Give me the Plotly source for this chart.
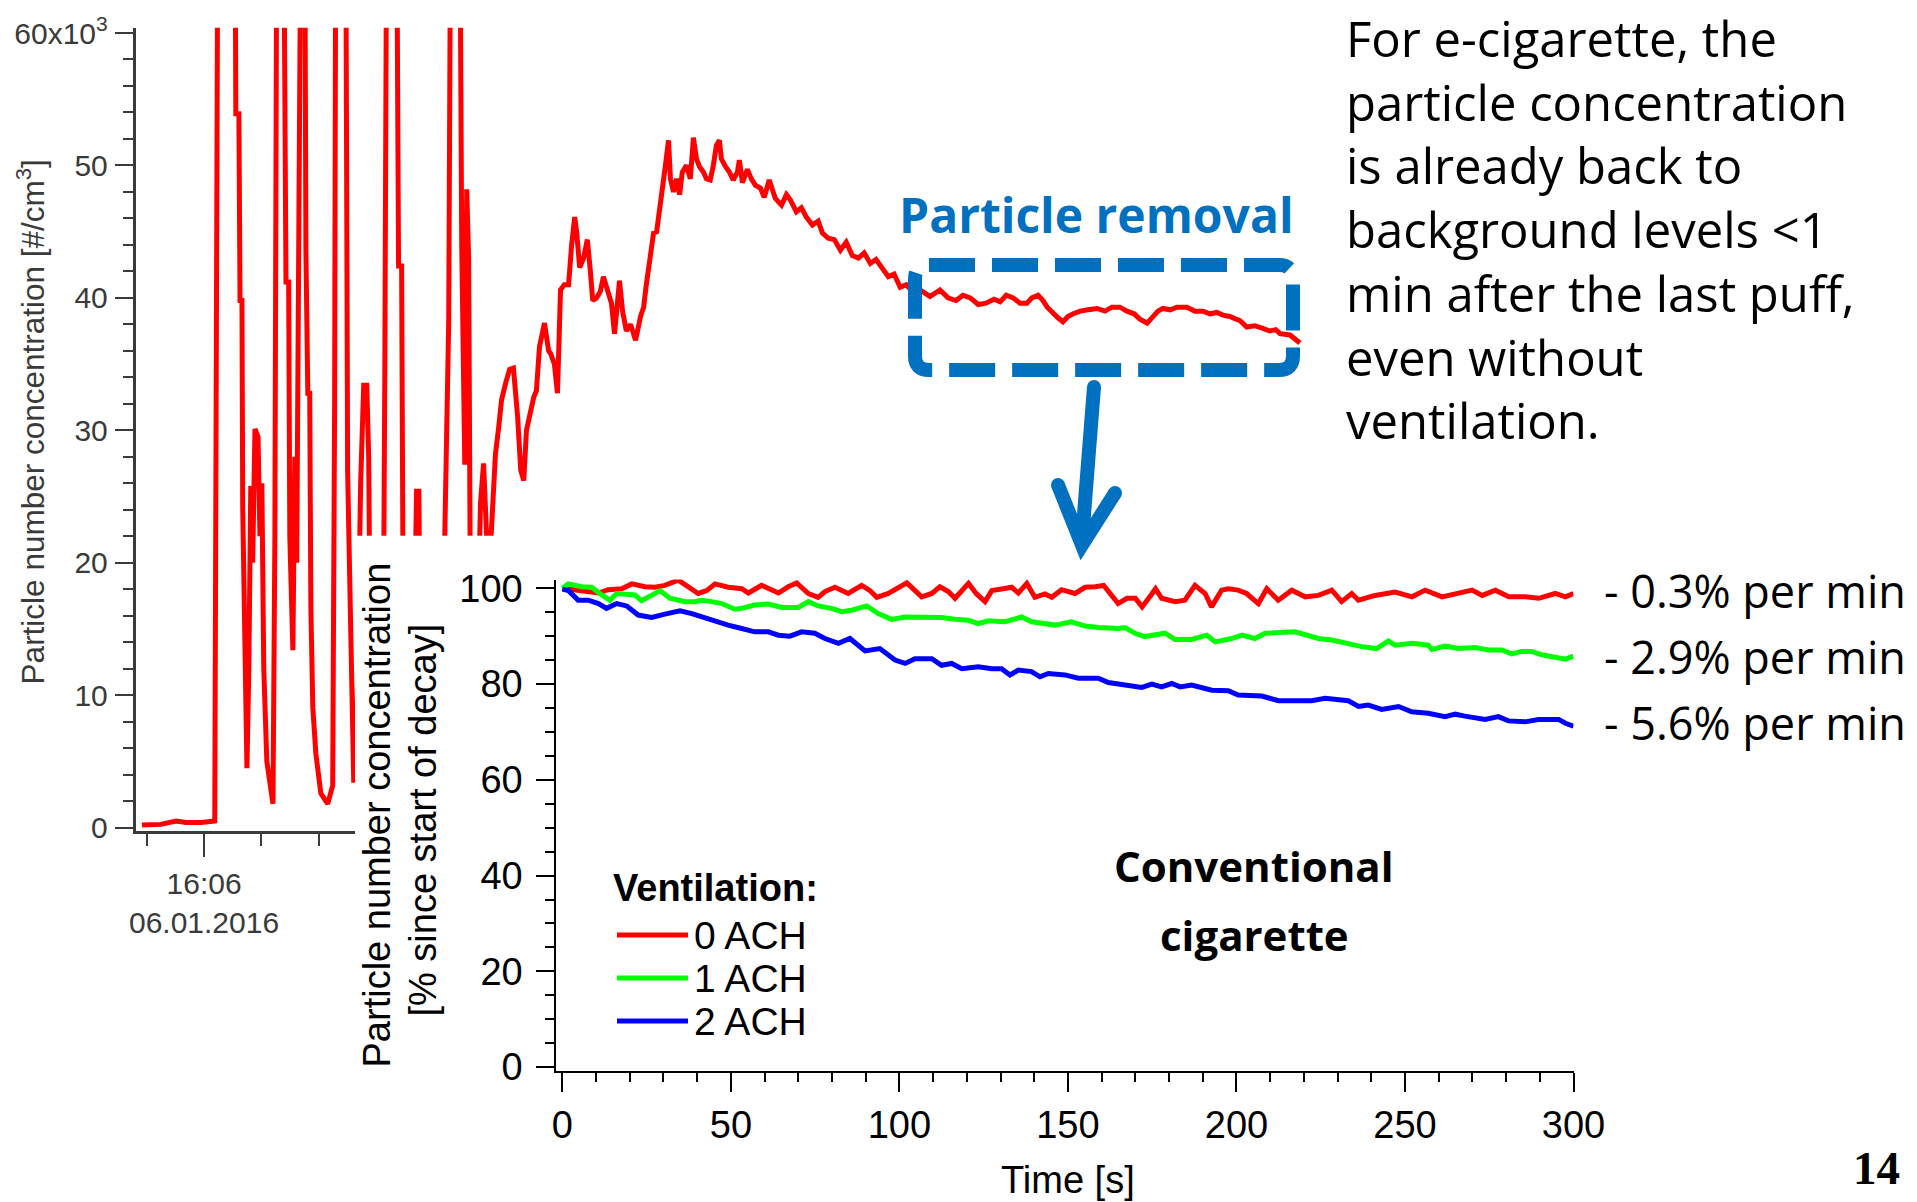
import pandas as pd
import plotly.graph_objects as go

W, H = 1917, 1202
RED, GREEN, BLUE = "#ff0000", "#00ff00", "#0000ff"
ACCENT = "#0070c0"
AXIS_GREY = "#3a3a3a"
SANS = "Liberation Sans, Arial, sans-serif"
SLIDE = "Open Sans, sans-serif"

# ---- e-cigarette session (6 Jan 2016): seconds after 16:05:40, concentration in 10^3 #/cm3
session_start = pd.Timestamp("2016-01-06 16:05:40")
ecig_seconds = [
    3.8, 8.7, 12.7, 15.3, 19.2, 22.8, 23.6, 28.1, 28.3, 29.1, 29.4, 29.9, 30.1, 30.7,
    31.2, 31.7, 32.2, 32.7, 33.3, 34.1, 34.6, 35.1, 35.6, 36.4, 37.4, 38.0, 38.5, 39.0,
    40.8, 41.4, 42.1, 42.4, 43.2, 43.7, 44.2, 44.7, 45.3, 46.3, 46.6, 47.1, 47.6, 47.9,
    48.4, 49.2, 50.5, 52.3, 53.6, 54.1, 54.4, 57.0, 57.5, 58.3, 59.1, 59.9, 60.9, 61.7,
    62.5, 63.0, 63.5, 64.8, 66.7, 67.2, 67.7, 70.3, 70.8, 71.6, 72.1, 74.5, 75.5, 76.1,
    76.6, 81.8, 83.9, 84.4, 86.8, 87.3, 88.1, 88.6, 89.1, 89.6, 90.4, 91.7, 92.2, 93.0,
    93.8, 94.6, 95.4, 96.1, 96.9, 97.7, 98.8, 99.8, 100.8, 101.9, 102.7, 103.5, 104.2,
    105.3, 106.1, 106.8, 107.6, 108.9, 110.0, 110.5, 111.5, 112.3, 113.1, 114.1, 115.2,
    116.0, 116.8, 117.3, 118.1, 119.1, 120.1, 120.9, 121.5, 122.5, 123.5, 124.3, 125.4,
    126.4, 127.2, 128.5, 129.3, 130.3, 131.4, 132.7, 134.0, 134.8, 135.5, 136.6, 137.4,
    138.2, 138.9, 139.7, 140.5, 141.3, 141.8, 142.6, 143.4, 144.2, 144.9, 146.0, 147.0,
    147.8, 148.6, 149.4, 150.4, 151.2, 152.2, 153.0, 153.8, 154.6, 155.1, 156.2, 157.2,
    158.2, 159.3, 159.8, 160.6, 161.9, 162.9, 164.0, 165.3, 166.3, 167.6, 169.2, 170.8,
    172.1, 173.1, 174.7, 176.0, 177.3, 178.9, 180.4, 181.5, 183.0, 184.6, 186.2, 187.7,
    189.3, 190.9, 192.4, 194.0, 195.5, 197.1, 198.7, 200.2, 201.8, 203.4, 204.9, 207.0,
    209.6, 212.2, 214.3, 216.4, 218.2, 220.1, 222.2, 224.2, 226.3, 227.9, 229.5, 231.3,
    233.1, 234.9, 236.2, 237.8, 239.1, 240.2, 241.7, 243.0, 244.3, 245.6, 247.0, 248.8,
    250.9, 253.2, 255.3, 257.1, 259.2, 261.0, 262.9, 264.4, 266.3, 267.8, 269.1, 270.4,
    272.3, 274.1, 276.7, 278.8, 280.9, 282.7, 284.5, 286.1, 287.9, 289.5, 290.5, 292.3,
    294.4, 296.5, 298.3, 299.9, 301.0, 303.6, 306.2,
]
ecig_conc_k = [
    0.2, 0.25, 0.5, 0.4, 0.4, 0.5, 70, 70, 53.9, 53.9, 39.8, 39.8, 24.2, 10,
    4.5, 12, 25.8, 20, 30.1, 29.5, 22, 26, 12, 5, 2.5, 1.8, 22, 70,
    70, 41.2, 41.2, 22, 13.4, 28, 20, 43, 70, 70, 43.6, 32.8, 32.8, 16.6,
    9.1, 5.6, 2.6, 1.8, 3.2, 31.8, 70, 70, 26.9, 15, 3.4, 8, 26, 33.4,
    33.4, 28, 10, 5, 8, 33.9, 70, 70, 42.4, 42.4, 10, 8, 25.4, 25.4,
    8, 5, 38.3, 70, 70, 43.9, 27.4, 48.2, 43, 15, 20, 18, 24.5, 27.5,
    22, 20, 25.5, 28.2, 30.1, 32.3, 33.6, 34.6, 34.7, 31, 27, 26.2, 30,
    31.5, 32.5, 33, 36.3, 38.1, 36, 35.8, 35, 32.8, 40.6, 41, 41,
    44, 46.1, 45, 42.3, 43, 44.4, 42, 39.8, 40, 40.5, 41.6, 40.5,
    39.6, 37.3, 41.3, 39, 37.5, 38, 36.8, 38.6, 39.3, 41, 43, 44.9,
    45, 46.5, 47.6, 50, 51.9, 49, 48, 49, 47.8, 49.5, 50, 49,
    52.1, 50.5, 49.9, 49.5, 49, 48.9, 50, 51.5, 51.9, 50.5, 49.9, 49.5,
    48.9, 49.5, 50.4, 48.7, 49.7, 49, 48.5, 48.3, 47.6, 48.9, 47.5, 47,
    47.8, 47.4, 46.5, 46.8, 46.1, 45.5, 45.8, 44.9, 44.5, 44.4, 43.6, 44.2,
    43.2, 43.0, 43.4, 42.6, 42.9, 42.2, 41.6, 41.8, 40.8, 41.0, 40.5, 40.6,
    40.1, 40.6, 40.0, 39.8, 40.2, 40.0, 39.5, 39.6, 39.9, 39.7, 40.2, 40.0,
    39.6, 39.6, 40.0, 40.2, 39.8, 39.3, 38.8, 38.5, 38.2, 38.6, 38.8, 39.0,
    39.1, 39.2, 39.0, 39.3, 39.3, 39.0, 38.8, 38.4, 38.1, 38.6, 39.0, 39.2,
    39.1, 39.3, 39.3, 39.0, 39.0, 38.8, 38.9, 38.7, 38.6, 38.4, 38.3, 37.8,
    37.9, 37.7, 37.5, 37.6, 37.3, 37.2, 36.6,
]
conc_tickvals = [0, 10, 20, 30, 40, 50, 60]
conc_ticktext = ["0", "10", "20", "30", "40", "50", "60x10<sup>3</sup>"]

# ---- conventional cigarette: concentration relative to the start of the decay (%)
# 0 air changes per hour
decay_t_0ach = [
    0, 3.7, 7.7, 10.7, 13.6, 17.6, 20.6, 24.5, 27.5, 30.4, 34.4, 37.4, 40.3, 42.8, 45.3,
    49.2, 53.2, 55.2, 59.1, 64.1, 67.0, 69.5, 73.0, 75.9, 77.9, 80.9, 84.8, 88.8, 91.3,
    93.3, 96.7, 102.2, 106.6, 109.6, 112.0, 114.5, 116.5, 120.5, 122.9, 125.4, 127.4,
    130.8, 133.3, 135.3, 137.8, 140.2, 143.2, 145.2, 148.1, 152.1, 155.1, 158.1, 160.6,
    164.9, 167.5, 170.0, 172.0, 175.0, 176.0, 177.8, 181.8, 184.7, 187.7, 190.7, 192.6,
    195.6, 197.6, 200.5, 203.0, 206.5, 209.0, 212.4, 216.4, 220.4, 224.3, 228.3, 231.2,
    234.2, 236.2, 241.1, 247.1, 252.1, 256.0, 261.0, 265.9, 269.9, 272.9, 276.8, 280.8,
    285.7, 289.7, 294.6, 297.6, 300.0,
]
decay_pct_0ach = [
    100.0, 99.7, 99.5, 99.0, 99.7, 99.9, 100.9, 100.3, 100.2, 100.6, 101.7, 100.3, 98.9,
    99.5, 100.9, 100.2, 99.9, 99.0, 100.6, 99.0, 100.3, 101.1, 98.9, 98.1, 99.3, 100.2,
    98.9, 100.6, 99.5, 98.1, 98.9, 101.1, 98.2, 98.9, 100.3, 99.3, 97.9, 101.0, 98.8,
    97.2, 99.5, 99.9, 100.2, 99.0, 101.0, 98.1, 98.8, 98.1, 99.7, 98.9, 100.2, 100.3,
    100.6, 96.8, 97.9, 97.9, 96.1, 98.9, 99.9, 97.9, 97.2, 97.5, 100.6, 98.9, 96.1,
    99.6, 99.9, 99.6, 98.9, 96.8, 99.9, 97.5, 99.6, 98.2, 98.5, 99.6, 97.2, 98.9, 97.5,
    98.5, 99.2, 98.2, 99.6, 98.2, 98.9, 99.6, 98.5, 99.6, 98.2, 98.2, 97.9, 98.9, 98.2,
    98.9,
]
# 1 air change per hour
decay_t_1ach = [
    0, 1.8, 5.7, 8.7, 11.7, 14.1, 16.1, 19.6, 21.5, 23.5, 26.5, 29.0, 31.9, 36.4, 39.3,
    41.3, 44.3, 47.3, 51.2, 53.2, 57.1, 61.1, 65.1, 70.0, 73.0, 75.9, 79.9, 82.9, 85.8,
    90.3, 93.7, 97.7, 101.7, 106.6, 112.5, 116.5, 120.5, 123.4, 126.4, 131.3, 136.3,
    139.2, 142.2, 146.2, 151.1, 155.1, 159.0, 164.9, 166.9, 169.9, 172.8, 175.8, 178.8,
    181.8, 186.7, 191.2, 193.7, 198.6, 201.6, 205.5, 208.5, 217.4, 220.4, 224.3, 228.3,
    232.2, 237.2, 241.6, 245.1, 247.1, 252.1, 256.9, 258.0, 261.9, 265.9, 270.8, 274.8,
    278.7, 281.7, 284.6, 287.6, 290.6, 293.6, 297.6, 300.0,
]
decay_pct_1ach = [
    100.0, 100.9, 100.3, 100.2, 98.6, 97.5, 98.9, 98.6, 98.6, 97.4, 98.6, 99.5, 97.9,
    97.2, 97.2, 97.5, 97.2, 96.8, 95.6, 95.8, 96.5, 96.7, 96.0, 96.0, 97.2, 96.3, 95.8,
    95.1, 95.4, 96.3, 94.7, 93.5, 94.0, 93.9, 93.9, 93.5, 93.3, 92.6, 93.2, 93.0, 94.0,
    93.0, 92.8, 92.3, 93.0, 92.1, 91.8, 91.6, 91.8, 90.6, 89.9, 90.2, 90.6, 89.3, 89.3,
    90.2, 88.8, 89.5, 90.2, 89.5, 90.6, 90.9, 90.2, 89.5, 89.2, 88.5, 87.8, 87.4, 89.0,
    88.1, 88.5, 88.1, 87.2, 87.9, 87.4, 87.6, 87.1, 87.1, 86.3, 86.8, 86.8, 86.1, 85.6,
    85.2, 85.8,
]
# 2 air changes per hour
decay_t_2ach = [
    0, 1.8, 4.7, 7.7, 10.7, 13.1, 16.1, 19.1, 22.5, 26.5, 30.4, 34.9, 38.4, 41.3, 45.3,
    49.2, 53.2, 57.1, 61.1, 64.1, 67.5, 71.0, 74.9, 77.9, 81.9, 85.3, 89.8, 94.2, 98.7,
    101.7, 104.6, 109.6, 112.5, 115.5, 118.5, 123.4, 127.4, 130.3, 132.8, 135.3, 139.2,
    141.7, 144.2, 149.1, 153.1, 159.0, 162.0, 167.0, 171.9, 174.9, 177.8, 180.8, 183.3,
    186.7, 192.7, 197.6, 200.5, 207.5, 212.5, 218.4, 222.3, 226.3, 233.2, 236.2, 239.1,
    243.1, 248.1, 252.0, 256.9, 261.9, 264.9, 267.8, 273.8, 277.7, 280.7, 285.7, 289.6,
    295.6, 297.6, 300.0,
]
decay_pct_2ach = [
    99.8, 99.5, 97.5, 97.5, 96.8, 95.8, 96.8, 96.3, 94.4, 93.9, 94.6, 95.3, 94.7, 94.0,
    93.0, 92.3, 91.6, 90.9, 90.9, 90.2, 90.0, 90.9, 90.6, 89.5, 88.5, 89.5, 86.9, 87.4,
    85.0, 84.3, 85.3, 85.3, 83.9, 84.3, 83.2, 83.6, 83.2, 83.2, 81.9, 82.9, 82.6, 81.5,
    82.2, 81.9, 81.2, 81.2, 80.3, 79.8, 79.3, 80.0, 79.4, 80.1, 79.4, 79.8, 78.7, 78.6,
    77.7, 77.5, 76.5, 76.5, 76.5, 77.0, 76.5, 75.3, 75.6, 74.7, 75.3, 74.2, 73.9, 73.2,
    73.7, 73.3, 72.6, 73.2, 72.3, 72.1, 72.6, 72.6, 71.8, 71.2,
]
ventilation_labels = ["0 ACH", "1 ACH", "2 ACH"]
decay_rate_labels = ["- 0.3% per min", "- 2.9% per min", "- 5.6% per min"]


def px(x):
    return x / W


def py(y):
    return 1 - y / H


def path_from_px(points, close=False):
    parts = []
    for cmd, coords in points:
        xy = " ".join(f"{px(coords[i]):.5f},{py(coords[i + 1]):.5f}" for i in range(0, len(coords), 2))
        parts.append(f"{cmd} {xy}")
    return " ".join(parts) + (" Z" if close else "")


ecig_times = [session_start + pd.Timedelta(seconds=s) for s in ecig_seconds]
label_time = session_start + pd.Timedelta(seconds=20)

fig = go.Figure()

# main e-cigarette time series
fig.add_trace(go.Scatter(
    x=ecig_times, y=ecig_conc_k, mode="lines", line=dict(color=RED, width=5),
    xaxis="x", yaxis="y", showlegend=False, hoverinfo="skip",
))
# blank panel that masks the lower right part of the main chart
fig.add_trace(go.Scatter(x=[], y=[], xaxis="x2", yaxis="y2", showlegend=False, hoverinfo="skip"))
# decay curves of the inset
decay_series = [
    (decay_t_0ach, decay_pct_0ach, RED),
    (decay_t_1ach, decay_pct_1ach, GREEN),
    (decay_t_2ach, decay_pct_2ach, BLUE),
]
for (tt, vals, col), name in zip(decay_series, ventilation_labels):
    fig.add_trace(go.Scatter(
        x=tt, y=vals, mode="lines", line=dict(color=col, width=5),
        xaxis="x3", yaxis="y3", name=name, showlegend=False, hoverinfo="skip",
    ))

tick_font_main = dict(family=SANS, size=30, color=AXIS_GREY)
tick_font_inset = dict(family=SANS, size=38, color="#000000")

fig.update_layout(
    template="none",
    width=W, height=H, autosize=False,
    margin=dict(l=0, r=0, t=0, b=0, pad=0, autoexpand=False),
    paper_bgcolor="white", plot_bgcolor="white",
    xaxis=dict(
        type="date", domain=[px(135.5), px(1303)], anchor="y", automargin=False,
        range=[str(session_start + pd.Timedelta(seconds=2.1)), str(session_start + pd.Timedelta(seconds=307.0))],
        showline=True, linecolor=AXIS_GREY, linewidth=2.5, showgrid=False, zeroline=False,
        ticks="outside", ticklen=23, tickwidth=2, tickcolor=AXIS_GREY,
        tickvals=[label_time], tickformat="%H:%M<br>%d.%m.%Y",
        tickfont=tick_font_main, ticklabelstandoff=1,
        minor=dict(ticks="outside", ticklen=12, tickwidth=2, tickcolor=AXIS_GREY,
                   dtick=15000, tick0=str(label_time), showgrid=False),
    ),
    yaxis=dict(
        domain=[py(831), py(27.7)], anchor="x", range=[-0.25, 60.4], automargin=False,
        showline=True, linecolor=AXIS_GREY, linewidth=2.5, showgrid=False, zeroline=False,
        ticks="outside", ticklen=18, tickwidth=2, tickcolor=AXIS_GREY,
        tickvals=conc_tickvals, ticktext=conc_ticktext, tickfont=tick_font_main,
        ticklabelstandoff=1,
        minor=dict(ticks="outside", ticklen=10, tickwidth=2, tickcolor=AXIS_GREY, dtick=2, showgrid=False),
    ),
    xaxis2=dict(domain=[px(355), px(1310)], anchor="y2", visible=False, range=[0, 1], automargin=False),
    yaxis2=dict(domain=[0, py(535.7)], anchor="x2", visible=False, range=[0, 1], automargin=False),
    xaxis3=dict(
        domain=[px(556.3), px(1573.5)], anchor="y3", range=[-1.8, 300], automargin=False,
        showline=True, linecolor="black", linewidth=2, showgrid=False, zeroline=False,
        ticks="outside", ticklen=19, tickwidth=2, tickcolor="black",
        tick0=0, dtick=50, tickfont=tick_font_inset, ticklabelstandoff=0,
        minor=dict(ticks="outside", ticklen=9, tickwidth=2, tickcolor="black", dtick=10, showgrid=False),
    ),
    yaxis3=dict(
        domain=[py(1071), py(579.6)], anchor="x3", range=[-0.8, 101.8], automargin=False,
        showline=True, linecolor="black", linewidth=2, showgrid=False, zeroline=False,
        ticks="outside", ticklen=18, tickwidth=2, tickcolor="black",
        tick0=0, dtick=20, tickfont=tick_font_inset, ticklabelstandoff=6,
        minor=dict(ticks="outside", ticklen=9, tickwidth=2, tickcolor="black", dtick=5, showgrid=False),
    ),
)

annotations = [
    # axis titles
    dict(x=px(30.6), y=py(421.8), text="Particle number concentration [#/cm<sup>3</sup>]",
         textangle=-90, font=dict(family=SANS, size=31.5, color=AXIS_GREY)),
    dict(x=px(377), y=py(815.5), text="Particle number concentration",
         textangle=-90, font=dict(family=SANS, size=38, color="black")),
    dict(x=px(423), y=py(820.6), text="[% since start of decay]",
         textangle=-90, font=dict(family=SANS, size=38, color="black")),
    dict(x=px(1068), y=py(1180), text="Time [s]", font=dict(family=SANS, size=38, color="black")),
    # slide text
    dict(x=px(1343.6), y=py(229.3), xanchor="left", align="left",
         text=("For e-cigarette, the<br>particle concentration<br>is already back to<br>"
               "background levels &lt;1<br>min after the last puff,<br>even without<br>ventilation."),
         font=dict(family=SLIDE, size=49, color="black")),
    dict(x=px(1096.5), y=py(214), text="<b>Particle removal</b>",
         font=dict(family=SLIDE, size=48, color=ACCENT)),
    dict(x=px(1254), y=py(865), text="<b>Conventional</b>", font=dict(family=SLIDE, size=42, color="black")),
    dict(x=px(1254), y=py(934), text="<b>cigarette</b>", font=dict(family=SLIDE, size=42, color="black")),
    dict(x=px(611), y=py(888), xanchor="left", text="<b>Ventilation:</b>",
         font=dict(family=SANS, size=38, color="black")),
    dict(x=px(1876), y=py(1167.5), text="<b>14</b>",
         font=dict(family="Liberation Serif, Times New Roman, serif", size=47, color="black")),
]
for label, yc in zip(decay_rate_labels, [590.5, 656.5, 722.5]):
    annotations.append(dict(x=px(1601.6), y=py(yc), xanchor="left", text=label,
                            font=dict(family=SLIDE, size=45, color="black")))

shapes = []
for label, col, yc in zip(ventilation_labels, [RED, GREEN, BLUE], [935, 978, 1021]):
    shapes.append(dict(type="line", xref="paper", yref="paper", x0=px(617), x1=px(688),
                       y0=py(yc), y1=py(yc), line=dict(color=col, width=5)))
    annotations.append(dict(x=px(692), y=py(yc), xanchor="left", text=label,
                            font=dict(family=SANS, size=39, color="black")))

for a in annotations:
    a.setdefault("xref", "paper")
    a.setdefault("yref", "paper")
    a.setdefault("showarrow", False)
    a.setdefault("xanchor", "center")
    a.setdefault("yanchor", "middle")

# dashed rounded box around the decay part of the main series
L, R, T, B, r = 915, 1293, 265, 370, 14
box_path = path_from_px([
    ("M", (L + r, T)), ("L", (R - r, T)), ("Q", (R, T, R, T + r)), ("L", (R, B - r)),
    ("Q", (R, B, R - r, B)), ("L", (L + r, B)), ("Q", (L, B, L, B - r)), ("L", (L, T + r)),
    ("Q", (L, T, L + r, T)),
], close=True)
shapes.append(dict(type="path", xref="paper", yref="paper", path=box_path,
                   line=dict(color=ACCENT, width=14, dash="46px,17px")))

# arrow pointing from the box to the inset
shapes.append(dict(type="line", xref="paper", yref="paper", x0=px(1094), y0=py(387), x1=px(1082), y1=py(540),
                   line=dict(color=ACCENT, width=14)))
shapes.append(dict(type="path", xref="paper", yref="paper",
                   path=path_from_px([("M", (1058, 485)), ("L", (1082, 545)), ("L", (1115, 493))]),
                   line=dict(color=ACCENT, width=14)))
for cx, cy in [(1094, 387), (1058, 485), (1115, 493)]:
    shapes.append(dict(type="circle", xref="paper", yref="paper",
                       x0=px(cx - 7), x1=px(cx + 7), y0=py(cy + 7), y1=py(cy - 7),
                       fillcolor=ACCENT, line=dict(width=0)))

fig.update_layout(annotations=annotations, shapes=shapes)

# page without body margin so the figure fills the window exactly
fig.write_html(
    "out.html",
    config={"displayModeBar": False},
    post_script="document.body.style.margin='0';document.body.style.overflow='hidden';",
)
